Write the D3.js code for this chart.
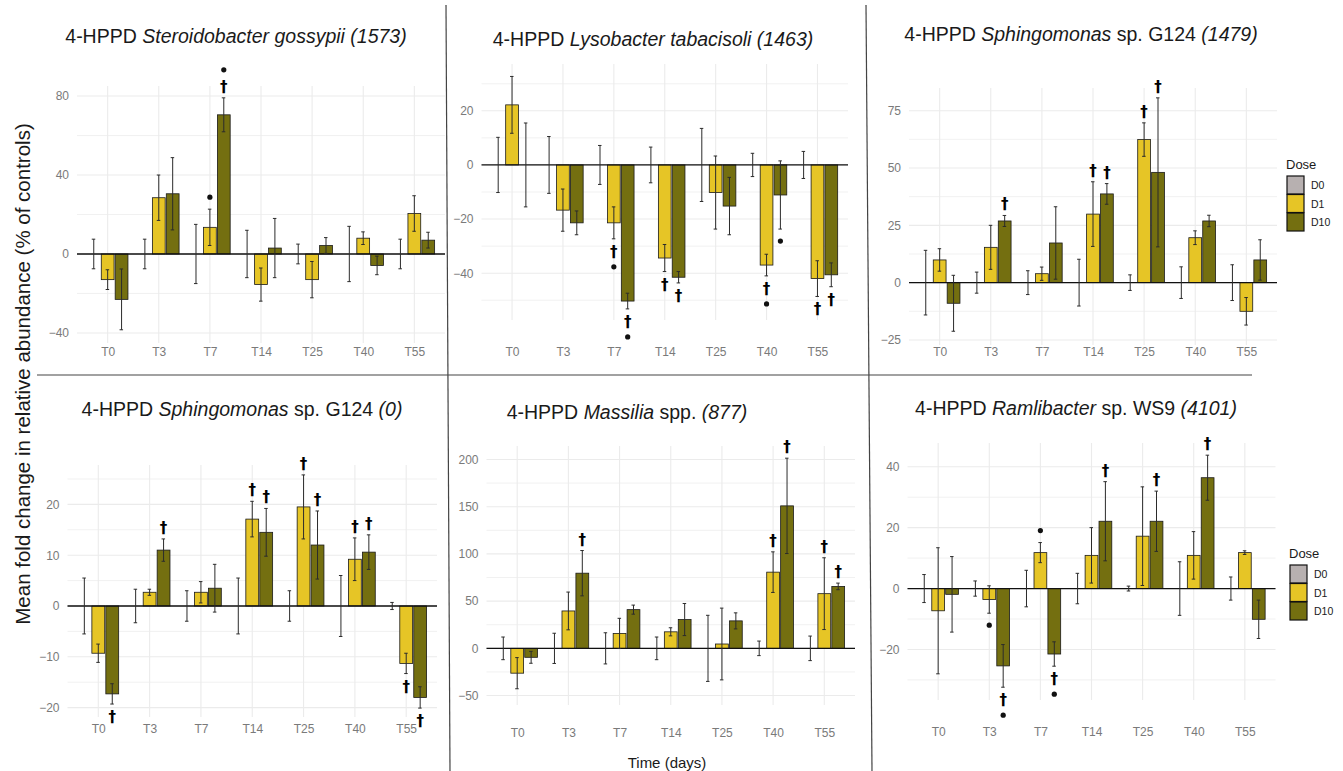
<!DOCTYPE html>
<html>
<head>
<meta charset="utf-8">
<script src="https://cdn.jsdelivr.net/npm/d3@7"></script>
<style>
  html, body { margin: 0; padding: 0; background: #fff; }
  svg { display: block; font-family: "Liberation Sans", Arial, sans-serif; }
</style>
</head>
<body>
<svg id="chart" width="1343" height="771"></svg>
<script>
'use strict';

/* Data */

var categories = ['T0', 'T3', 'T7', 'T14', 'T25', 'T40', 'T55'];
var doses = ['D0', 'D1', 'D10'];

// panel titles, [text, italic]
var titles = [
  [['4-HPPD ', false], ['Steroidobacter gossypii (1573)', true]],
  [['4-HPPD ', false], ['Lysobacter tabacisoli (1463)', true]],
  [['4-HPPD ', false], ['Sphingomonas', true], [' sp. G124 ', false], ['(1479)', true]],
  [['4-HPPD ', false], ['Sphingomonas', true], [' sp. G124 ', false], ['(0)', true]],
  [['4-HPPD ', false], ['Massilia', true], [' spp. ', false], ['(877)', true]],
  [['4-HPPD ', false], ['Ramlibacter', true], [' sp. WS9 ', false], ['(4101)', true]]
];

// D0 is the control: mean 0, only its spread is shown
var d0se = [
  [7.5, 7.5, 15, 12, 5, 14, 7.5],
  [10.2, 10.5, 7.2, 6.6, 13.5, 4.3, 5],
  [14.1, 4.6, 5.2, 10.2, 3.4, 6.9, 7.8],
  [5.5, 3.3, 3, 5.5, 3, 6, 0.7],
  [12, 16, 16.5, 12, 35, 7.7, 13],
  [4.6, 2.5, 6, 5, 0.8, 8.8, 3.8]
];
var d1 = [
  [-13, 28.5, 13.5, -15.5, -13, 8, 20.5],
  [22.2, -16.7, -21.4, -34.4, -10.2, -37, -42],
  [9.9, 15.4, 3.9, 29.9, 62.4, 19.6, -12.5],
  [-9.3, 2.7, 2.7, 17.1, 19.5, 9.2, -11.3],
  [-26.3, 39.6, 15.8, 17.5, 4.6, 80.7, 57.9],
  [-7.3, -3.6, 11.8, 10.9, 17.2, 10.9, 11.8]
];
var d1se = [
  [5, 11.5, 9.2, 8.4, 9.2, 3.2, 9],
  [10.5, 7.8, 5.9, 5, 13.5, 4, 6.6],
  [4.9, 9.6, 2.9, 14.1, 7.3, 3, 6],
  [1.8, 0.6, 2.1, 3.5, 6.3, 4.2, 2],
  [16.5, 20, 16, 4.3, 38, 21.5, 38],
  [20.7, 4.5, 3.3, 9.1, 16.2, 7.8, 0.6]
];
var d10 = [
  [-23, 30.5, 70.5, 3, 4.3, -5.8, 7],
  [0, -21.4, -50.3, -41.5, -15.2, -11.1, -40.6],
  [-9, 26.9, 17.3, 38.7, 48.1, 26.9, 9.9],
  [-17.3, 11, 3.5, 14.5, 12, 10.6, -18],
  [-9.5, 79.6, 41, 30.5, 29.1, 150.9, 65.6],
  [-1.9, -25.4, -21.5, 22.1, 22.1, 36.4, -10.1]
];
var d10se = [
  [15.4, 18.3, 8.6, 15, 4, 4.7, 4],
  [15.5, 4.4, 2.9, 2.1, 10.6, 12.6, 4.4],
  [12.2, 2.4, 15.8, 4.5, 32.5, 2.5, 8.8],
  [2, 2.2, 4.7, 4.7, 6.7, 3.4, 2.1],
  [6.3, 24, 4.8, 17, 8.5, 50.5, 3.5],
  [12.4, 7, 4, 13, 9.9, 7.4, 6.3]
];

// significance marks: [category index, dose, marks] (nearest mark first)
var marks = [
  [[2, 'D1', '•'], [2, 'D10', '†•']],
  [[2, 'D1', '†•'], [2, 'D10', '†•'], [3, 'D1', '†'], [3, 'D10', '†'],
   [5, 'D1', '†•'], [5, 'D10', '•'], [6, 'D1', '†'], [6, 'D10', '†']],
  [[1, 'D10', '†'], [3, 'D1', '†'], [3, 'D10', '†'], [4, 'D1', '†'], [4, 'D10', '†']],
  [[0, 'D10', '†'], [1, 'D10', '†'], [3, 'D1', '†'], [3, 'D10', '†'], [4, 'D1', '†'],
   [4, 'D10', '†'], [5, 'D1', '†'], [5, 'D10', '†'], [6, 'D1', '†'], [6, 'D10', '†']],
  [[1, 'D10', '†'], [5, 'D1', '†'], [5, 'D10', '†'], [6, 'D1', '†'], [6, 'D10', '†']],
  [[1, 'D1', '•'], [1, 'D10', '†•'], [2, 'D1', '•'], [2, 'D10', '†•'],
   [3, 'D10', '†'], [4, 'D10', '†'], [5, 'D10', '†']]
];

// y domains and tick steps per panel
var yDomains = [[-45.1, 85.1], [-57.3, 37.3], [-27.2, 84.9], [-21.85, 27.75], [-60, 214.3], [-36.6, 47.8]];
var yStep = [40, 20, 25, 10, 50, 20];

/* Layout */

var layout = [
  {x0: 77, x1: 445, top: 86, bottom: 343, labelY: 352, tx: 236, ty: 36},
  {x0: 481.5, x1: 848, top: 64, bottom: 320, labelY: 352, tx: 653, ty: 39},
  {x0: 909, x1: 1277, top: 88, bottom: 345, labelY: 352, tx: 1081, ty: 34, legend: [1286, 164]},
  {x0: 67.5, x1: 437, top: 465, bottom: 717, labelY: 729, tx: 242, ty: 409},
  {x0: 486.5, x1: 855, top: 446, bottom: 705, labelY: 733, tx: 627, ty: 412},
  {x0: 907.5, x1: 1275.5, top: 443, bottom: 700, labelY: 731.5, tx: 1076, ty: 408, legend: [1289, 553]}
];

var colors = {D0: '#b7b0b0', D1: '#e6c526', D10: '#746f10'};
var gridColor = '#ebebeb';
var tickColor = '#7a7a7a';
var fontFamily = '"Liberation Sans", Arial, sans-serif';

var svg = d3.select('#chart');

function drawPanel(p) {
  var L = layout[p],
      g = svg.append('g'),
      x = d3.scalePoint().domain(categories).range([L.x0, L.x1]).padding(0.6),
      y = d3.scaleLinear().domain(yDomains[p]).range([L.bottom, L.top]),
      step = x.step(),
      dodge = step * 0.272,
      barW = step * 0.25,
      major = d3.range(Math.ceil(yDomains[p][0] / yStep[p]) * yStep[p], yDomains[p][1], yStep[p]),
      minor = d3.range(Math.ceil(yDomains[p][0] / (yStep[p] / 2)) * yStep[p] / 2, yDomains[p][1], yStep[p] / 2)
        .filter(function(v) { return major.indexOf(v) < 0; });

  // grid
  g.append('g').selectAll('line').data(minor).enter().append('line')
    .attr('x1', L.x0).attr('x2', L.x1)
    .attr('y1', function(d) { return y(d); }).attr('y2', function(d) { return y(d); })
    .attr('stroke', gridColor).attr('stroke-width', 0.7);
  g.append('g').selectAll('line').data(major).enter().append('line')
    .attr('x1', L.x0).attr('x2', L.x1)
    .attr('y1', function(d) { return y(d); }).attr('y2', function(d) { return y(d); })
    .attr('stroke', gridColor).attr('stroke-width', 1.1);
  g.append('g').selectAll('line').data(categories).enter().append('line')
    .attr('x1', function(d) { return x(d); }).attr('x2', function(d) { return x(d); })
    .attr('y1', L.top).attr('y2', L.bottom)
    .attr('stroke', gridColor).attr('stroke-width', 1.1);

  // axes
  var ya = g.append('g')
    .attr('transform', 'translate(' + L.x0 + ',0)')
    .call(d3.axisLeft(y).tickValues(major).tickSize(0).tickPadding(8));
  ya.select('.domain').remove();
  ya.selectAll('text').attr('fill', tickColor).style('font-size', '12px')
    .style('font-family', fontFamily);

  var xa = g.append('g')
    .attr('transform', 'translate(0,' + L.labelY + ')')
    .call(d3.axisBottom(x).tickSize(0));
  xa.select('.domain').remove();
  xa.selectAll('text').attr('y', 0).attr('dy', '0.35em').attr('fill', tickColor)
    .style('font-size', '12px').style('font-family', fontFamily);

  // rows: one per category and dose
  var rows = [];
  categories.forEach(function(c, i) {
    rows.push({cat: c, i: i, dose: 'D0', v: 0, se: d0se[p][i], off: -dodge});
    rows.push({cat: c, i: i, dose: 'D1', v: d1[p][i], se: d1se[p][i], off: 0});
    rows.push({cat: c, i: i, dose: 'D10', v: d10[p][i], se: d10se[p][i], off: dodge});
  });

  g.append('g').selectAll('rect').data(rows.filter(function(d) { return d.v !== 0; }))
    .enter().append('rect')
    .attr('x', function(d) { return x(d.cat) + d.off - barW / 2; })
    .attr('width', barW)
    .attr('y', function(d) { return y(Math.max(0, d.v)); })
    .attr('height', function(d) { return Math.abs(y(d.v) - y(0)); })
    .attr('fill', function(d) { return colors[d.dose]; })
    .attr('stroke', '#1a1a1a').attr('stroke-width', 0.8);

  // zero line
  g.append('line')
    .attr('x1', L.x0).attr('x2', L.x1)
    .attr('y1', y(0)).attr('y2', y(0))
    .attr('stroke', '#111').attr('stroke-width', 1.3);

  // error bars
  var eb = g.append('g').attr('stroke', '#2b2b2b').attr('stroke-width', 1);
  rows.forEach(function(d) {
    var cx = x(d.cat) + d.off,
        hi = y(d.v + d.se),
        lo = y(d.v - d.se);
    eb.append('line').attr('x1', cx).attr('x2', cx).attr('y1', hi).attr('y2', lo);
    eb.append('line').attr('x1', cx - 2).attr('x2', cx + 1.5).attr('y1', hi).attr('y2', hi);
    eb.append('line').attr('x1', cx - 2).attr('x2', cx + 1.5).attr('y1', lo).attr('y2', lo);
  });

  // significance marks
  marks[p].forEach(function(m) {
    var r = rows.filter(function(d) { return d.i === m[0] && d.dose === m[1]; })[0],
        cx = x(r.cat) + r.off,
        dir = r.v >= 0 ? -1 : 1,
        edge = y(r.v - dir * r.se),
        pos = edge + dir * 12;
    m[2].split('').forEach(function(ch, k) {
      if (k > 0) pos += dir * 16;
      if (ch === '•') {
        g.append('circle').attr('cx', cx).attr('cy', pos).attr('r', 2.6).attr('fill', '#111');
      } else {
        g.append('text')
          .attr('x', cx).attr('y', pos + 1)
          .attr('text-anchor', 'middle')
          .attr('dominant-baseline', 'central')
          .attr('fill', '#000')
          .style('font-family', '"DejaVu Sans", sans-serif')
          .style('font-size', '15px')
          .style('font-weight', 'bold')
          .text(ch);
      }
    });
  });

  // title
  var t = g.append('text')
    .attr('x', L.tx).attr('y', L.ty)
    .attr('text-anchor', 'middle')
    .attr('dominant-baseline', 'central')
    .attr('fill', '#1a1a1a')
    .style('font-size', '19.5px');
  titles[p].forEach(function(part) {
    t.append('tspan').style('font-style', part[1] ? 'italic' : 'normal').text(part[0]);
  });

  // legend
  if (L.legend) {
    var lg = g.append('g').attr('transform', 'translate(' + L.legend[0] + ',' + L.legend[1] + ')');
    lg.append('text').attr('x', 0).attr('y', 0).attr('dominant-baseline', 'central')
      .attr('fill', '#1a1a1a').style('font-size', '13px').text('Dose');
    doses.forEach(function(d, k) {
      lg.append('rect')
        .attr('x', 1).attr('y', 12 + k * 18.5)
        .attr('width', 17).attr('height', 18)
        .attr('fill', colors[d]).attr('stroke', '#111').attr('stroke-width', 1.2);
      lg.append('text')
        .attr('x', 25).attr('y', 21 + k * 18.5)
        .attr('dominant-baseline', 'central')
        .attr('fill', '#1a1a1a').style('font-size', '10.5px').text(d);
    });
  }
}

for (var p = 0; p < 6; p++) drawPanel(p);

// panel separators
var sep = svg.append('g').attr('stroke', '#444').attr('stroke-width', 1.2);
sep.append('line').attr('x1', 37).attr('x2', 1252).attr('y1', 375).attr('y2', 375);
sep.append('line').attr('x1', 446).attr('x2', 450).attr('y1', 5).attr('y2', 771);
sep.append('line').attr('x1', 866).attr('x2', 872).attr('y1', 5).attr('y2', 771);

// shared axis titles
svg.append('text')
  .attr('transform', 'translate(22,374) rotate(-90)')
  .attr('text-anchor', 'middle')
  .attr('dominant-baseline', 'central')
  .attr('fill', '#1a1a1a')
  .style('font-size', '20.5px')
  .text('Mean fold change in relative abundance (% of controls)');

svg.append('text')
  .attr('x', 667).attr('y', 762)
  .attr('text-anchor', 'middle')
  .attr('dominant-baseline', 'central')
  .attr('fill', '#1a1a1a')
  .style('font-size', '15px')
  .text('Time (days)');
</script>
</body>
</html>
